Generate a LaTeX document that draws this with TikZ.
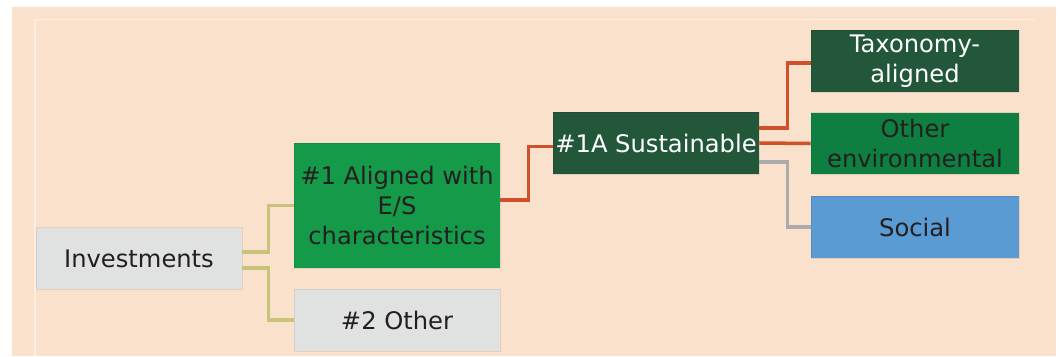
\documentclass[tikz,border=0pt]{standalone}
\usepackage{fontspec}
\setmainfont{DejaVu Sans}
\usetikzlibrary{calc}
\definecolor{Peach}{HTML}{F9E1CB}
\definecolor{PeachLine}{HTML}{FDEEE0}
\definecolor{BoxGray}{HTML}{E0E1E1}
\definecolor{MidGreen}{HTML}{149A48}
\definecolor{DarkGreen}{HTML}{22573A}
\definecolor{EnvGreen}{HTML}{0E7F40}
\definecolor{SkyBlue}{HTML}{5B9BD4}
\definecolor{Rust}{HTML}{D0502A}
\definecolor{Olive}{HTML}{C8C27A}
\definecolor{LinkGray}{HTML}{ABABAB}
\definecolor{Ink}{HTML}{231F20}

\begin{document}
\begin{tikzpicture}[
    x=0.025cm, y=-0.025cm,
    box/.style={rectangle,inner sep=0pt,align=center,minimum width=5.15cm,minimum height=1.54cm,
        font=\fontsize{17.2}{21.3}\selectfont,text=Ink,draw=black,draw opacity=0.08,line width=0.4pt},
    link/.style={line width=2.5pt}
]
\useasboundingbox[fill=white] (0,0) rectangle (1059,356);
\fill[Peach] (12,7) rectangle (1056,356);
\draw[PeachLine,line width=1pt] (35,356) -- (35,19.5) -- (1036,19.5);
\node[box,fill=BoxGray] (inv) at (139,258.5) {Investments};
\node[box,fill=MidGreen,minimum height=3.125cm] (aligned) at (397,205.5) {\#1 Aligned with\\E/S\\characteristics};
\node[box,fill=BoxGray,minimum height=1.55cm] (other) at (397,320) {\#2 Other};
\node[box,fill=DarkGreen,text=white] (sust) at (656,143) {\#1A Sustainable};
\node[box,fill=DarkGreen,text=white,minimum width=5.2cm] (taxo) at (915,61) {Taxonomy-\\aligned};
\node[box,fill=EnvGreen,minimum width=5.2cm] (otherenv) at (915,143.5) {Other\\environmental};
\node[box,fill=SkyBlue,minimum width=5.2cm] (social) at (915,227) {Social};
\draw[link,Olive] ($(inv.east)+(0,-6.5)$) -- ++(26,0) |- (aligned.west);
\draw[link,Olive] ($(inv.east)+(0,9.5)$) -- ++(26,0) |- (other.west);
\draw[link,Rust] ($(aligned.east)+(0,-5.5)$) -- ++(28,0) |- ($(sust.west)+(0,3.5)$);
\draw[link,Rust] ($(sust.east)+(0,-15)$) -- ++(28,0) |- ($(taxo.west)+(0,2)$);
\draw[link,Rust] (sust.east) -- (otherenv.west);
\draw[link,LinkGray] ($(sust.east)+(0,19)$) -- ++(28,0) |- (social.west);
\end{tikzpicture}
\end{document}
